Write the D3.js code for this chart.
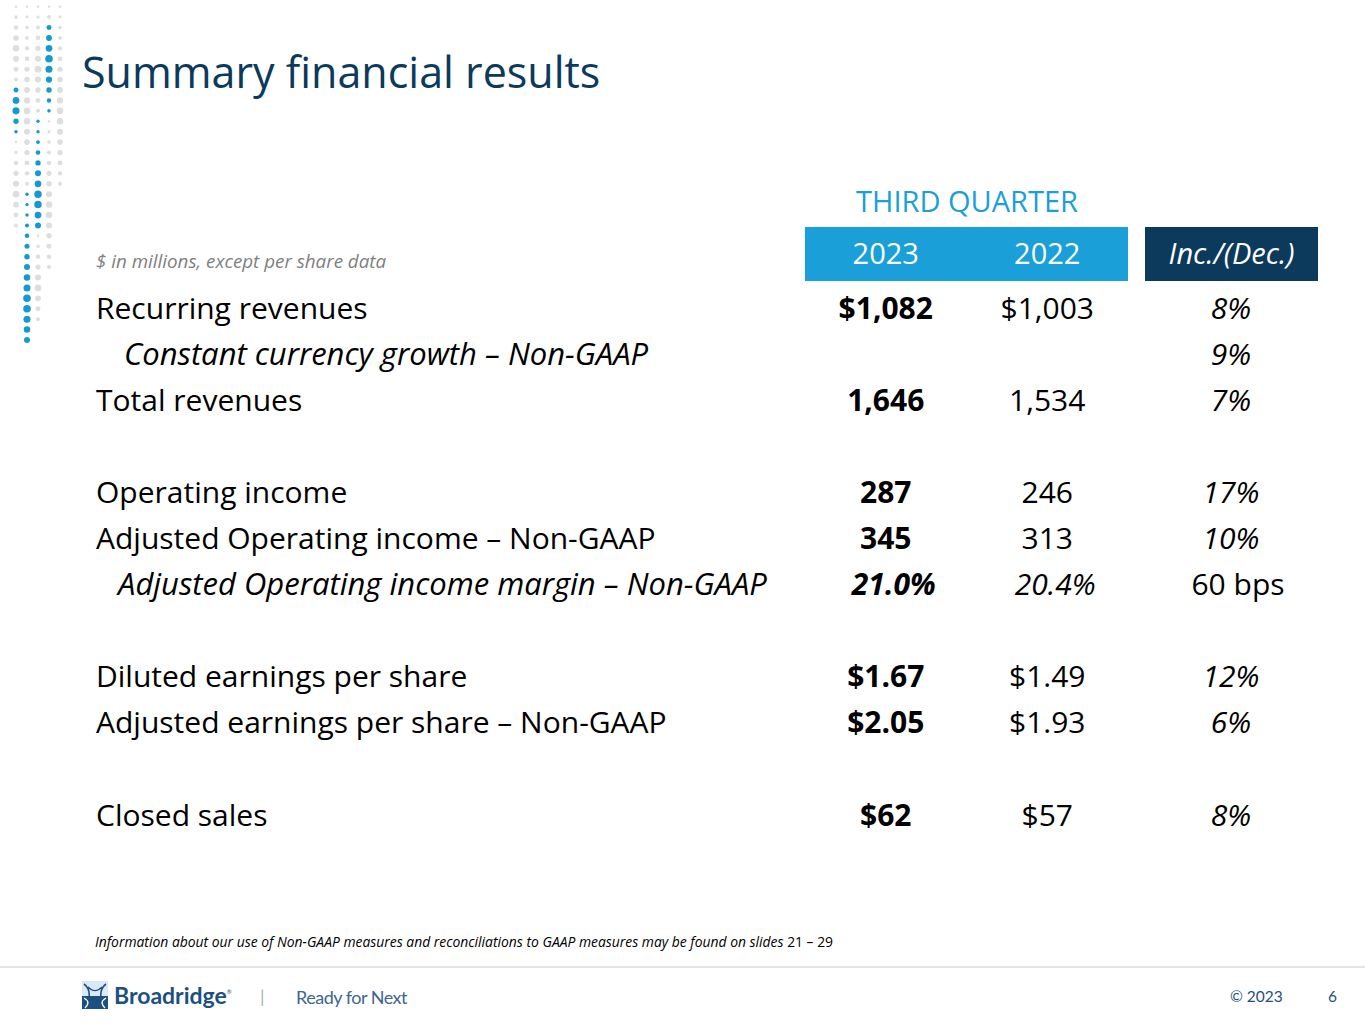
<!DOCTYPE html>
<html>
<head>
<meta charset="utf-8">
<script src="https://cdn.jsdelivr.net/npm/d3@7"></script>
<style>
  body { margin: 0; background: #fff; }
  svg { display: block; font-family: "Open Sans", Lato, sans-serif; }
  .foot { font-family: Lato, sans-serif; }
</style>
</head>
<body>
<div id="chart"></div>
<script>
// table data
const rowLabels = [
  "Recurring revenues",
  "Constant currency growth \u2013 Non-GAAP",
  "Total revenues",
  "Operating income",
  "Adjusted Operating income \u2013 Non-GAAP",
  "Adjusted Operating income margin \u2013 Non-GAAP",
  "Diluted earnings per share",
  "Adjusted earnings per share \u2013 Non-GAAP",
  "Closed sales"
];
const rowKind = ["main", "sub", "main", "main", "main", "margin", "main", "main", "main"];
const years = ["2023", "2022"];
const values2023 = ["$1,082", "", "1,646", "287", "345", "21.0%", "$1.67", "$2.05", "$62"];
const values2022 = ["$1,003", "", "1,534", "246", "313", "20.4%", "$1.49", "$1.93", "$57"];
const changes = ["8%", "9%", "7%", "17%", "10%", "60 bps", "12%", "6%", "8%"];
// rows sit in slots, blank slots separate the groups
const slots = ["r0", "r1", "r2", "g1", "r3", "r4", "r5", "g2", "r6", "r7", "g3", "r8"];
const rowSlot = ["r0", "r1", "r2", "r3", "r4", "r5", "r6", "r7", "r8"];

// decorative dot columns: grey rows before, blue rows, grey rows after
const dotCols = [
  { grey1: 8, blue: 5, grey2: 9 },
  { grey1: 18, blue: 15, grey2: 0 },
  { grey1: 11, blue: 11, grey2: 9 },
  { grey1: 2, blue: 9, grey2: 15 },
  { grey1: 18, blue: 0, grey2: 0 }
];

let width = 1365, height = 1024;
const navy = "#0b3a5d", blue = "#1a9fd9";

const svg = d3.select("#chart")
  .append("svg")
  .attr("width", width)
  .attr("height", height)
  .attr("viewBox", [0, 0, width, height]);

// dots
let dx = d3.scaleLinear().domain([0, 4]).range([16, 60]);
let dy = d3.scaleLinear().domain([0, 32]).range([6.7, 340]);
let dots = [];
dotCols.forEach((c, i) => {
  let k = 0;
  for (let j = 0; j < c.grey1; j++, k++) dots.push({ col: i, row: k, blue: false, t: j / Math.max(1, c.grey1 - 1) });
  for (let j = 0; j < c.blue; j++, k++) dots.push({ col: i, row: k, blue: true, t: j / Math.max(1, c.blue - 1), n: c.blue });
  for (let j = 0; j < c.grey2; j++, k++) dots.push({ col: i, row: k, blue: false, t: j / Math.max(1, c.grey2 - 1) });
});
svg.append("g")
  .selectAll("circle")
  .data(dots)
  .join("circle")
  .attr("cx", d => dx(d.col))
  .attr("cy", d => dy(d.row))
  .attr("r", d => {
    let peak = d.blue ? (d.n > 10 ? 0.75 : 0.4) : 0.6;
    let s = 1 - Math.min(1, Math.abs(d.t - peak) * 1.6);
    return d.blue ? 1.7 + 2.2 * s : 1.2 + 2.2 * s;
  })
  .attr("fill", d => d.blue ? "#1599d3" : "#dedede");

// title
svg.append("text")
  .attr("x", 82).attr("y", 88)
  .attr("fill", navy)
  .style("font-size", "43px")
  .text("Summary financial results");

// header
let xYear = d3.scaleBand().domain(years).range([805, 1128]);
let incBox = [1145, 1318];
let headTop = 227, headH = 54;

svg.append("text")
  .attr("x", 967).attr("y", 212)
  .attr("text-anchor", "middle")
  .attr("fill", blue)
  .style("font-size", "29px")
  .text("THIRD QUARTER");

svg.append("rect")
  .attr("x", xYear.range()[0]).attr("y", headTop)
  .attr("width", xYear.range()[1] - xYear.range()[0]).attr("height", headH)
  .attr("fill", blue);
svg.append("rect")
  .attr("x", incBox[0]).attr("y", headTop)
  .attr("width", incBox[1] - incBox[0]).attr("height", headH)
  .attr("fill", navy);

svg.append("g")
  .selectAll("text")
  .data(years)
  .join("text")
  .attr("x", d => xYear(d) + xYear.bandwidth() / 2)
  .attr("y", headTop + headH / 2)
  .attr("dy", "0.35em")
  .attr("text-anchor", "middle")
  .attr("fill", "#fff")
  .style("font-size", "29px")
  .text(d => d);
svg.append("text")
  .attr("x", (incBox[0] + incBox[1]) / 2)
  .attr("y", headTop + headH / 2)
  .attr("dy", "0.35em")
  .attr("text-anchor", "middle")
  .attr("fill", "#fff")
  .style("font-size", "29px")
  .style("font-style", "italic")
  .text("Inc./(Dec.)");

svg.append("text")
  .attr("x", 96).attr("y", 268)
  .attr("fill", "#7f7f7f")
  .style("font-size", "18.8px")
  .style("font-style", "italic")
  .text("$ in millions, except per share data");

// rows
let y = d3.scalePoint().domain(slots).range([308, 815]);
let rows = rowLabels.map((label, i) => ({
  label, kind: rowKind[i], slot: rowSlot[i],
  v23: values2023[i], v22: values2022[i], chg: changes[i]
}));

let g = svg.append("g").style("font-size", "30px").attr("fill", "#000");

g.selectAll(".label")
  .data(rows)
  .join("text")
  .attr("class", "label")
  .attr("x", d => d.kind == "sub" ? 124 : d.kind == "margin" ? 118 : 96)
  .attr("y", d => y(d.slot))
  .attr("dy", "0.35em")
  .style("font-style", d => d.kind == "main" ? "normal" : "italic")
  .style("font-size", d => d.kind == "main" ? null : "31px")
  .text(d => d.label);

g.selectAll(".v23")
  .data(rows)
  .join("text")
  .attr("class", "v23")
  .attr("x", xYear("2023") + xYear.bandwidth() / 2)
  .attr("y", d => y(d.slot))
  .attr("dy", "0.35em")
  .attr("dx", d => d.kind == "margin" ? 8 : 0)
  .attr("text-anchor", "middle")
  .style("font-weight", "bold")
  .style("font-style", d => d.kind == "margin" ? "italic" : "normal")
  .text(d => d.v23);

g.selectAll(".v22")
  .data(rows)
  .join("text")
  .attr("class", "v22")
  .attr("x", xYear("2022") + xYear.bandwidth() / 2)
  .attr("y", d => y(d.slot))
  .attr("dy", "0.35em")
  .attr("dx", d => d.kind == "margin" ? 8 : 0)
  .attr("text-anchor", "middle")
  .style("font-style", d => d.kind == "margin" ? "italic" : "normal")
  .text(d => d.v22);

g.selectAll(".chg")
  .data(rows)
  .join("text")
  .attr("class", "chg")
  .attr("x", d => d.kind == "margin" ? 1238 : 1231)
  .attr("y", d => y(d.slot))
  .attr("dy", "0.35em")
  .attr("text-anchor", "middle")
  .style("font-style", d => d.kind == "margin" ? "normal" : "italic")
  .text(d => d.chg);

// footnote
svg.append("text")
  .attr("x", 95).attr("y", 947)
  .style("font-size", "13.9px")
  .style("font-style", "italic")
  .text("Information about our use of Non-GAAP measures and reconciliations to GAAP measures may be found on slides ")
  .append("tspan")
  .style("font-style", "normal")
  .text("21 \u2013 29");

// footer
svg.append("line")
  .attr("x1", 0).attr("x2", width)
  .attr("y1", 967).attr("y2", 967)
  .attr("stroke", "#c8c8c8");

let logo = svg.append("g").attr("transform", "translate(82,981)");
logo.append("rect").attr("width", 26).attr("height", 28).attr("fill", "#dbe9f4");
logo.append("rect").attr("y", 15).attr("width", 26).attr("height", 13).attr("fill", "#1c5080");
logo.append("path")
  .attr("d", "M2,3 C9,8 9,20 2,25 M24,3 C17,8 17,20 24,25 M6,6 C11,11 15,11 20,6 M6,22 C11,17 15,17 20,22")
  .attr("fill", "none").attr("stroke", "#1c5080").attr("stroke-width", 1.6);
logo.append("path")
  .attr("d", "M2,17 C7,20 7,23 3,27 M24,17 C19,20 19,23 23,27")
  .attr("fill", "none").attr("stroke", "#fff").attr("stroke-width", 1.4);

svg.append("text")
  .attr("class", "foot")
  .attr("x", 114).attr("y", 1004)
  .attr("fill", "#1c5080")
  .style("font-size", "23px")
  .style("font-weight", "bold")
  .text("Broadridge")
  .append("tspan")
  .attr("dy", -10)
  .style("font-size", "6px")
  .style("font-weight", "normal")
  .text("\u00ae");

svg.append("text")
  .attr("class", "foot")
  .attr("x", 260).attr("y", 1003)
  .attr("fill", "#b0b0b0")
  .style("font-size", "18px")
  .text("|");
svg.append("text")
  .attr("class", "foot")
  .attr("x", 296).attr("y", 1004)
  .attr("fill", "#3d6690")
  .style("font-size", "18px")
  .style("letter-spacing", "-0.5px")
  .text("Ready for Next");

svg.append("text")
  .attr("class", "foot")
  .attr("x", 1230).attr("y", 1002)
  .attr("fill", "#1c5080")
  .style("font-size", "15.5px")
  .text("\u00a9 2023");
svg.append("text")
  .attr("class", "foot")
  .attr("x", 1328).attr("y", 1002)
  .attr("fill", "#1c5080")
  .style("font-size", "15.5px")
  .text("6");
</script>
</body>
</html>
